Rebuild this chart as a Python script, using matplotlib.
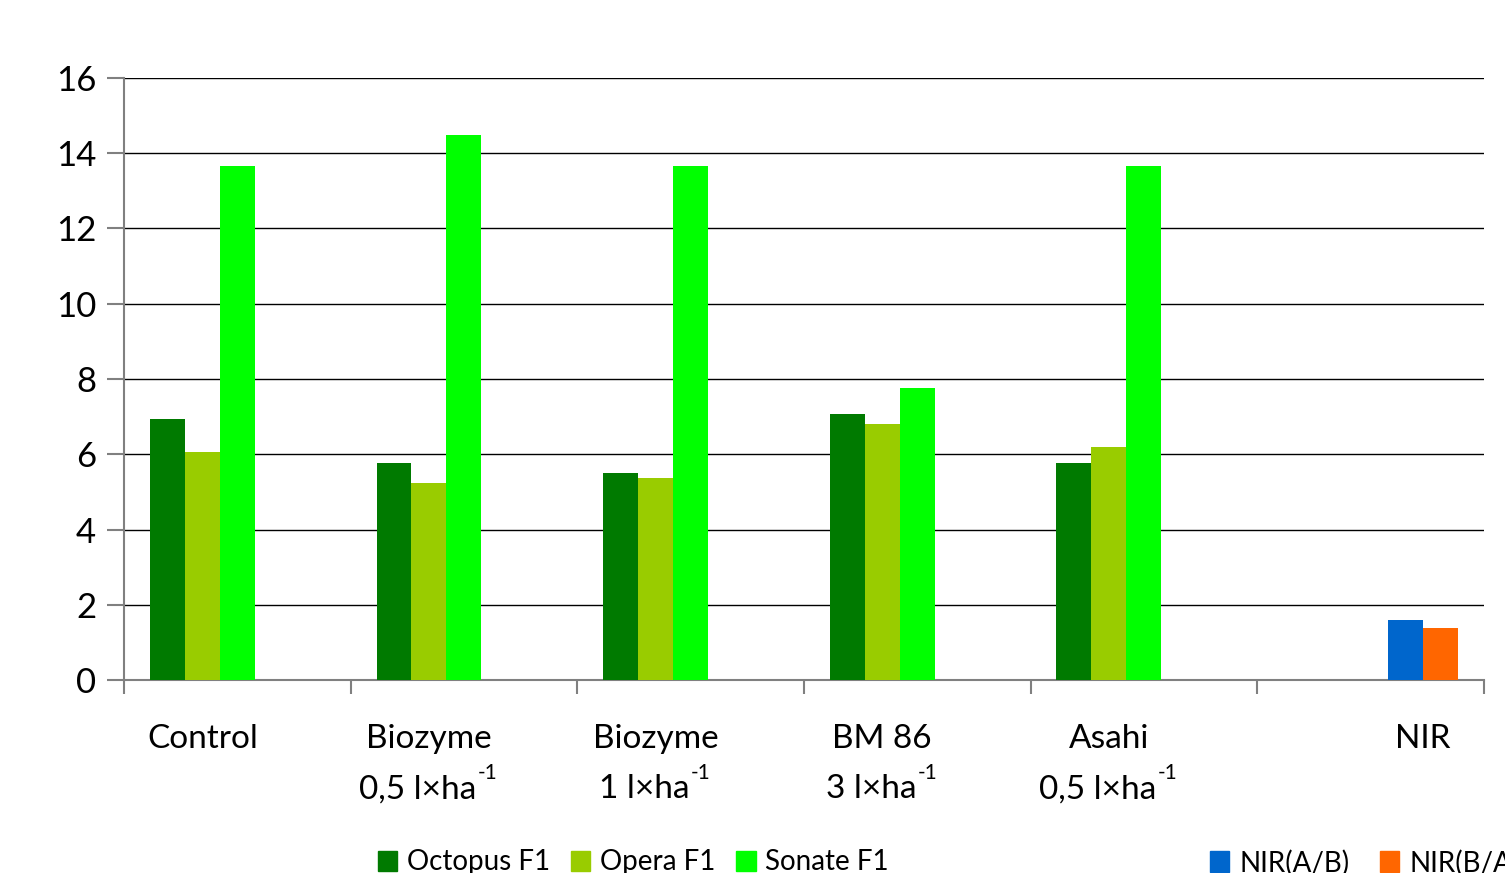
import matplotlib
matplotlib.use("Agg")
import matplotlib.pyplot as plt
import numpy as np
from matplotlib.patches import Patch
from matplotlib.transforms import offset_copy

plt.rcParams["font.family"] = ["Lato", "DejaVu Sans"]

categories = ["Control", "Biozyme", "Biozyme", "BM 86", "Asahi", "NIR"]
doses = ["", "0,5 l\u00d7ha", "1 l\u00d7ha", "3 l\u00d7ha", "0,5 l\u00d7ha", ""]
octopus = [6.94, 5.77, 5.50, 7.07, 5.77]
opera = [6.06, 5.24, 5.37, 6.80, 6.19]
sonate = [13.66, 14.48, 13.66, 7.76, 13.66]
nir_ab = 1.59
nir_ba = 1.38

series_names = ["Octopus F1", "Opera F1", "Sonate F1", "NIR(A/B)", "NIR(B/A)"]
colors = ["#007A00", "#99CC00", "#00FF00", "#0066CC", "#FF6600"]

fig = plt.figure(figsize=(15.05, 8.73), dpi=100)
ax = fig.add_axes([0.0824, 0.221, 0.9036, 0.6897])

w = 0.1544
idx = np.arange(5)
for j, vals in enumerate([octopus, opera, sonate]):
    ax.bar(idx + (j - 2) * w, vals, width=w, color=colors[j], zorder=3)
ax.bar(5 + 1 * w, nir_ab, width=w, color=colors[3], zorder=3)
ax.bar(5 + 2 * w, nir_ba, width=w, color=colors[4], zorder=3)

ax.set_xlim(-0.5, 5.5)
ax.set_ylim(0, 16)
ax.set_yticks(range(0, 17, 2))
ax.set_xticks(np.arange(-0.5, 5.6, 1))
ax.set_xticklabels([])
ax.yaxis.grid(True, color="black", linewidth=1)
ax.set_axisbelow(True)
for s in ["top", "right"]:
    ax.spines[s].set_visible(False)
for s in ["left", "bottom"]:
    ax.spines[s].set_color("#808080")
    ax.spines[s].set_linewidth(1.5)
ax.tick_params(axis="y", length=12, width=1.5, color="#808080", labelsize=25, pad=8)
ax.tick_params(axis="x", length=10, width=1.5, color="#808080")

# category labels (two lines, dose with superscript -1)
label_x = list(idx - w) + [5 + 1.5 * w]
fig.canvas.draw()
renderer = fig.canvas.get_renderer()
for x, lab, dose in zip(label_x, categories, doses):
    ax.text(x, -1.81, lab, ha="center", va="baseline", fontsize=24)
    if dose:
        t = ax.text(x - 0.05, -3.14, dose, ha="center", va="baseline", fontsize=24)
        bb = t.get_window_extent(renderer)
        x_end = ax.transData.inverted().transform((bb.x1, bb.y0))[0]
        tr = offset_copy(ax.transData, fig=fig, x=1, y=14, units="points")
        ax.text(x_end, -3.14, "-1", ha="left", va="baseline", fontsize=15, transform=tr)

h1 = [Patch(color=c) for c in colors[:3]]
h2 = [Patch(color=c) for c in colors[3:]]
kw = dict(frameon=False, fontsize=20, handlelength=0.7, handleheight=0.75,
          handletextpad=0.35, borderpad=0, borderaxespad=0)
fig.legend(h1, series_names[:3], loc="upper left", bbox_to_anchor=(0.251, 0.027), ncol=3,
           columnspacing=0.75, **kw)
fig.legend(h2, series_names[3:], loc="upper left", bbox_to_anchor=(0.804, 0.027), ncol=2,
           columnspacing=1.1, **kw)

fig.savefig("out.png", dpi=100)
